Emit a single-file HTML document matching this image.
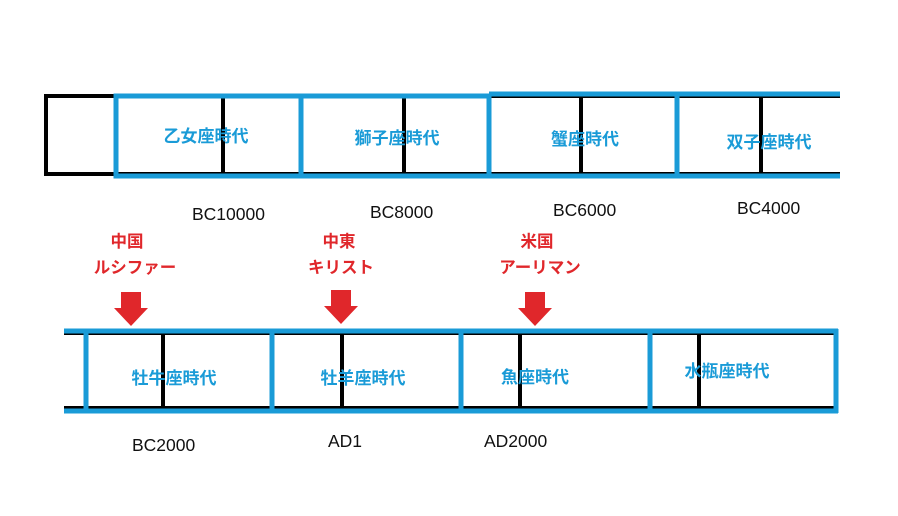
<!DOCTYPE html>
<html><head><meta charset="utf-8"><style>
html,body{margin:0;padding:0;background:#fff;width:898px;height:516px;overflow:hidden}
svg{display:block}
.b{font-family:"Liberation Sans","Noto Sans CJK JP",sans-serif;font-weight:bold;font-size:17px;fill:#1a9bd7}
.r{font-family:"Liberation Sans","Noto Sans CJK JP",sans-serif;font-weight:bold;font-size:16.5px;fill:#e0272b}
.k{font-family:"Liberation Sans","Noto Sans CJK JP",sans-serif;font-size:17.5px;fill:#111}
</style></head><body>
<svg width="898" height="516" viewBox="0 0 898 516" xmlns="http://www.w3.org/2000/svg">
<g stroke="#000" stroke-width="4" fill="none">
<line x1="44" y1="96" x2="840" y2="96"/>
<line x1="44" y1="174" x2="840" y2="174"/>
<line x1="46" y1="94" x2="46" y2="176"/>
<line x1="223" y1="96" x2="223" y2="174"/>
<line x1="404" y1="96" x2="404" y2="174"/>
<line x1="581" y1="96" x2="581" y2="174"/>
<line x1="761" y1="96" x2="761" y2="174"/>
</g>
<g stroke="#1a9bd7" stroke-width="5" fill="none">
<rect x="116" y="96" width="185" height="80"/>
<rect x="301" y="96" width="188" height="80"/>
<line x1="489" y1="94" x2="840" y2="94"/>
<line x1="489" y1="176" x2="840" y2="176"/>
<line x1="489" y1="94" x2="489" y2="178"/>
<line x1="677" y1="94" x2="677" y2="176"/>
</g>
<text class="b" x="206" y="142" text-anchor="middle">乙女座時代</text>
<text class="b" x="397" y="144" text-anchor="middle">獅子座時代</text>
<text class="b" x="585" y="145" text-anchor="middle">蟹座時代</text>
<text class="b" x="769" y="148" text-anchor="middle">双子座時代</text>
<text class="k" x="192" y="220">BC10000</text>
<text class="k" x="370" y="218">BC8000</text>
<text class="k" x="553" y="216">BC6000</text>
<text class="k" x="737" y="214">BC4000</text>
<text class="r" x="127" y="247" text-anchor="middle">中国</text>
<text class="r" x="135" y="273" text-anchor="middle">ルシファー</text>
<text class="r" x="339" y="247" text-anchor="middle">中東</text>
<text class="r" x="341" y="273" text-anchor="middle">キリスト</text>
<text class="r" x="537" y="247" text-anchor="middle">米国</text>
<text class="r" x="540" y="273" text-anchor="middle">アーリマン</text>
<g fill="#e0272b">
<polygon points="121,292 141,292 141,308 148,308 131,326 114,308 121,308"/>
<polygon points="331,290 351,290 351,306 358,306 341,324 324,306 331,306"/>
<polygon points="525,292 545,292 545,308 552,308 535,326 518,308 525,308"/>
</g>
<g stroke="#000" stroke-width="4" fill="none">
<line x1="64" y1="333" x2="838" y2="333"/>
<line x1="64" y1="408" x2="838" y2="408"/>
<line x1="163" y1="333" x2="163" y2="408"/>
<line x1="342" y1="333" x2="342" y2="408"/>
<line x1="520" y1="333" x2="520" y2="408"/>
<line x1="699" y1="333" x2="699" y2="408"/>
</g>
<g stroke="#1a9bd7" stroke-width="5" fill="none">
<line x1="64" y1="331" x2="838" y2="331"/>
<line x1="64" y1="411" x2="838" y2="411"/>
<line x1="86" y1="331" x2="86" y2="411"/>
<line x1="272" y1="331" x2="272" y2="411"/>
<line x1="461" y1="331" x2="461" y2="411"/>
<line x1="650" y1="331" x2="650" y2="411"/>
<line x1="836" y1="329" x2="836" y2="413"/>
</g>
<text class="b" x="174" y="384" text-anchor="middle">牡牛座時代</text>
<text class="b" x="363" y="384" text-anchor="middle">牡羊座時代</text>
<text class="b" x="535" y="383" text-anchor="middle">魚座時代</text>
<text class="b" x="727" y="377" text-anchor="middle">水瓶座時代</text>
<text class="k" x="132" y="451">BC2000</text>
<text class="k" x="328" y="447">AD1</text>
<text class="k" x="484" y="447">AD2000</text>
</svg>
</body></html>
